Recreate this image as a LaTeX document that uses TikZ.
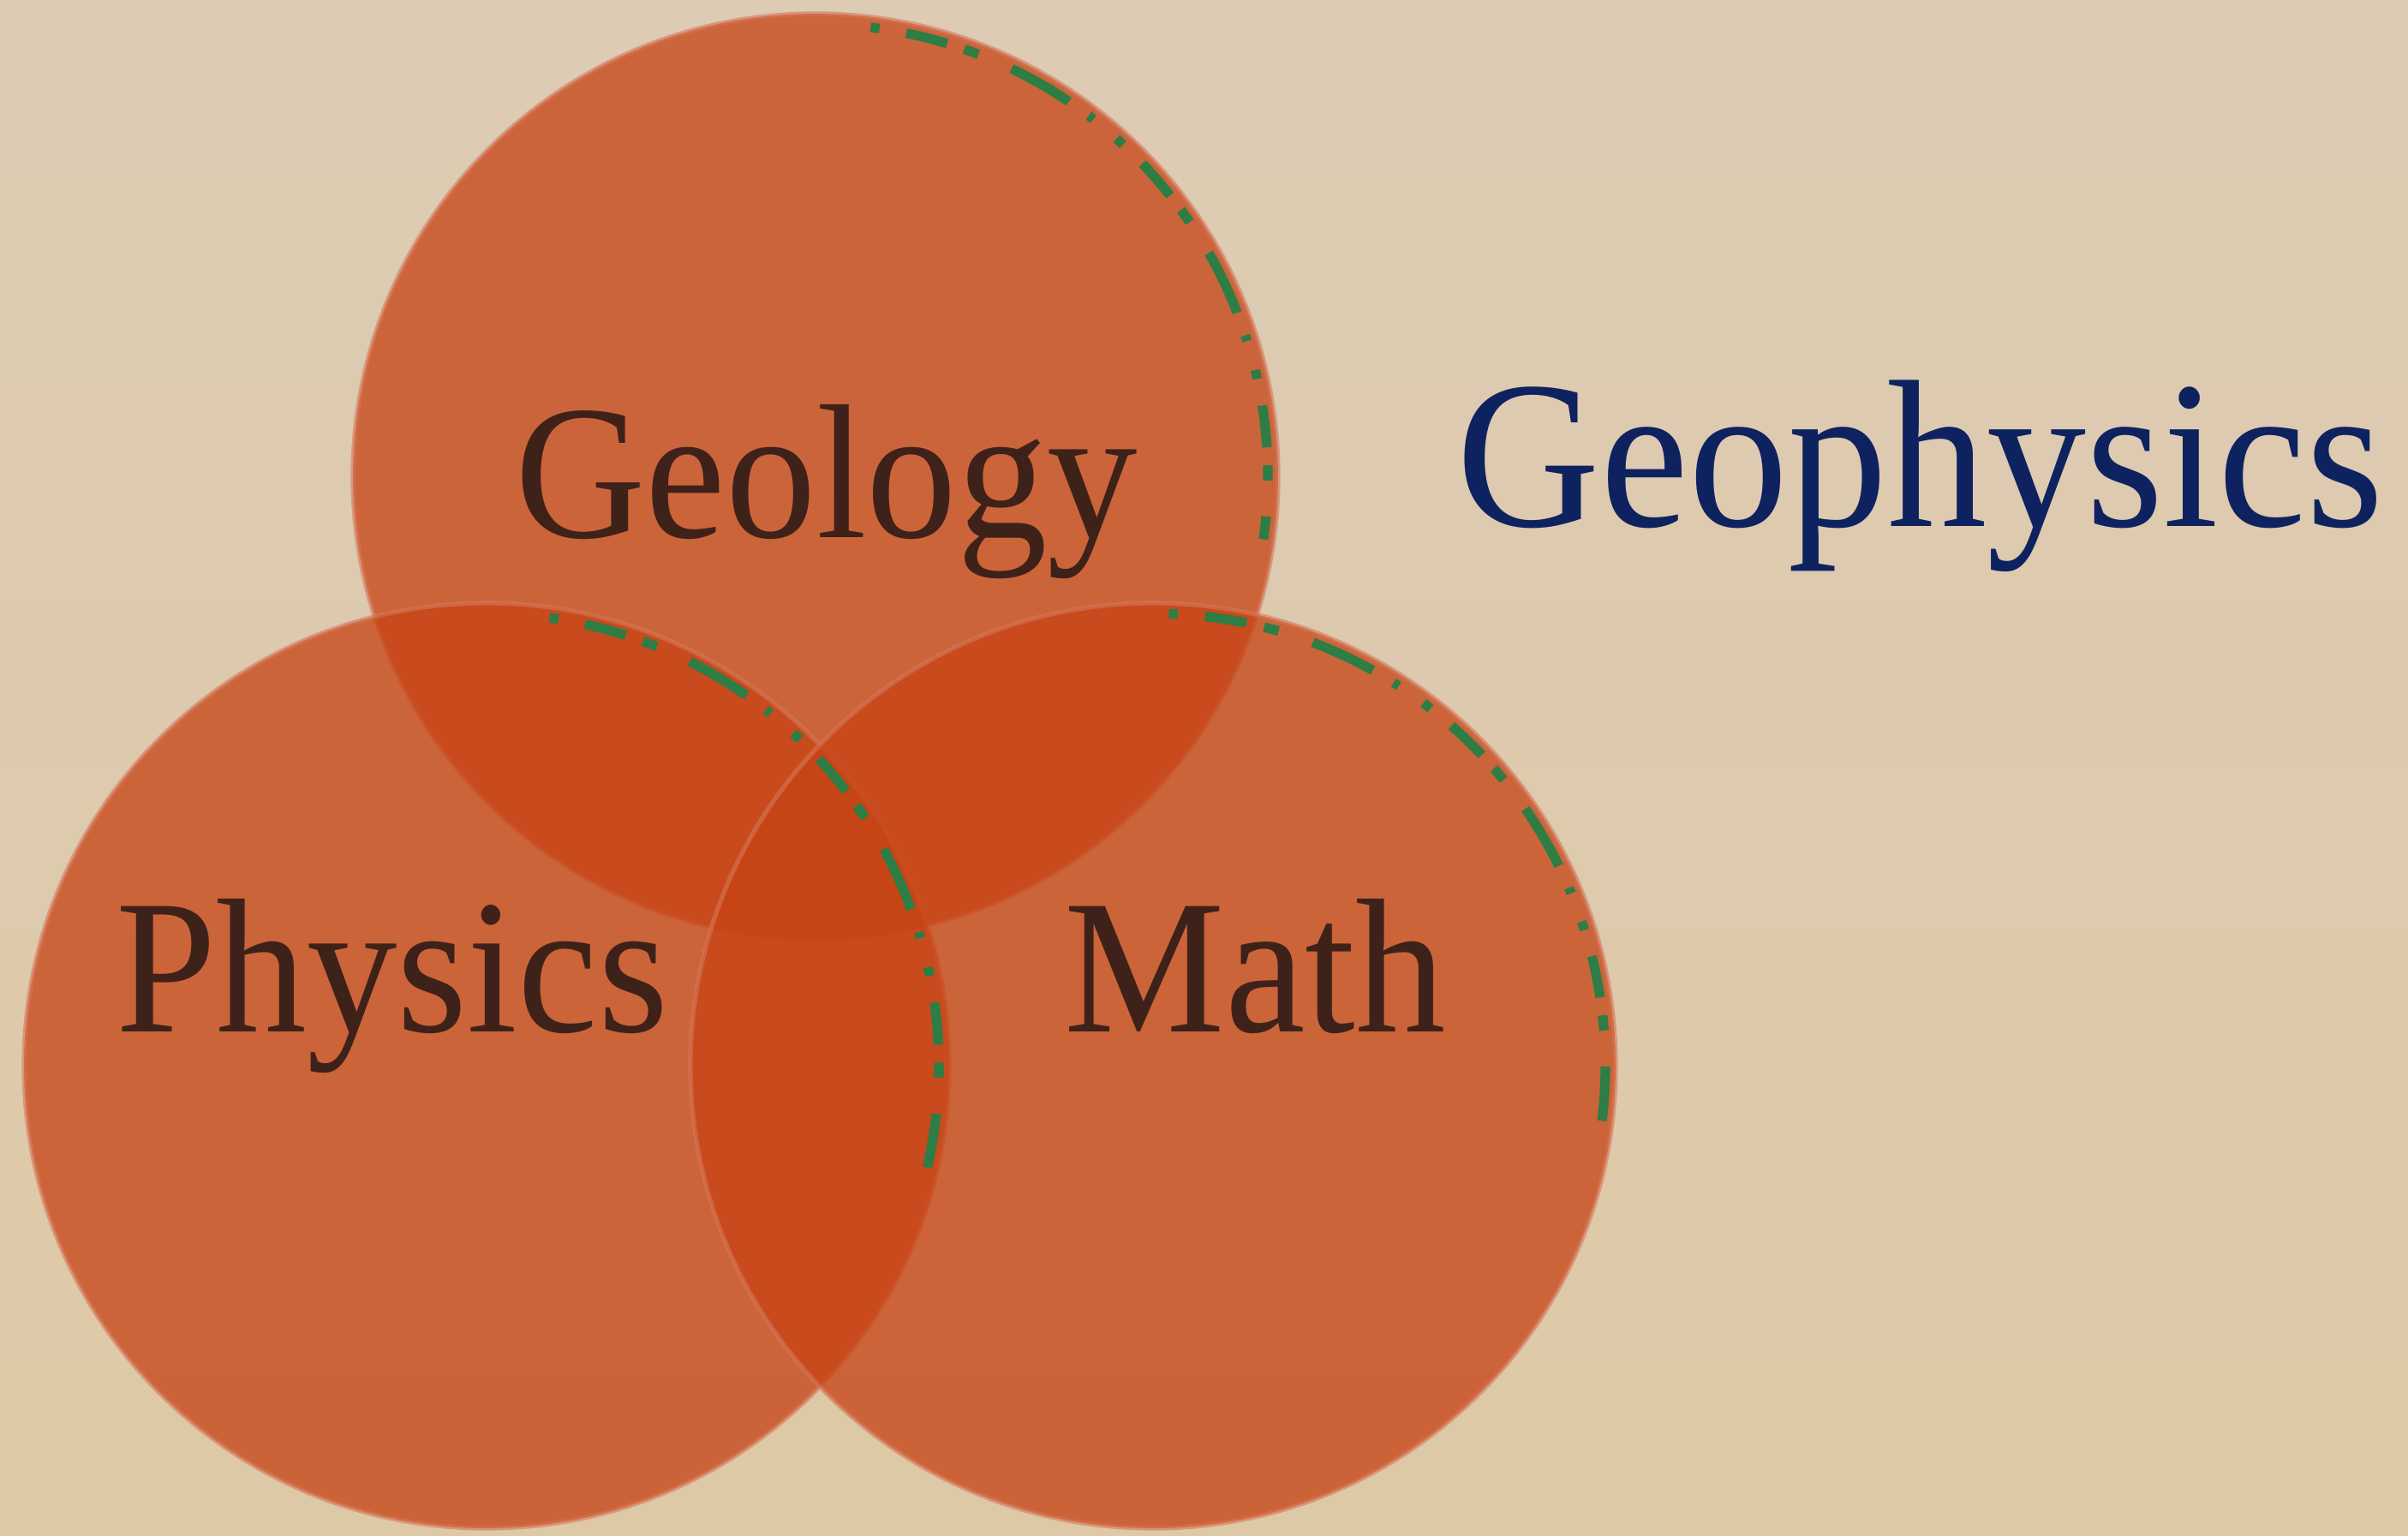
\documentclass[tikz,border=0pt]{standalone}
\usepackage{fontspec}
\setmainfont{Liberation Serif}
\definecolor{bgtop}{RGB}{221,203,180}
\definecolor{bgbot}{RGB}{222,201,166}
\definecolor{circfill}{RGB}{199,66,20}
\definecolor{circrim}{RGB}{214,118,88}
\definecolor{greenbit}{RGB}{46,125,69}
\definecolor{labelbrown}{RGB}{62,34,26}
\definecolor{titleblue}{RGB}{14,34,96}
\tikzset{
  venn/.style={circle, minimum size=10.8cm, inner sep=0pt, outer sep=0pt,
    fill=circfill, fill opacity=0.75, draw=circrim, draw opacity=0.6, line width=1.5pt},
  greenbits/.style={draw=greenbit, line width=3.2pt,
    dash pattern=on 3pt off 9pt on 14pt off 6pt on 5pt off 12pt on 22pt off 8pt on 2pt off 10pt},
  vennlabel/.style={anchor=base west, inner sep=0pt, yscale=1.06, text=labelbrown, font=\fontsize{60}{60}\selectfont},
  titlelabel/.style={anchor=base west, inner sep=0pt, yscale=1.06, text=titleblue, font=\fontsize{66}{66}\selectfont}
}
\begin{document}
\begin{tikzpicture}
\shade[top color=bgtop, bottom color=bgbot] (0,0) rectangle (28.11,17.92);
\useasboundingbox (0,0) rectangle (28.11,17.92);
% circles
\node[venn] (geo) at (9.52,12.36) {};
\node[venn] (phy) at (5.68,5.48) {};
\node[venn] (mat) at (13.46,5.48) {};
% green edge specks
\draw[greenbits] (geo.center) ++(83:5.28) arc[start angle=83, end angle=-8, radius=5.28];
\draw[greenbits] (phy.center) ++(82:5.28) arc[start angle=82, end angle=-13, radius=5.28];
\draw[greenbits] (mat.center) ++(88:5.28) arc[start angle=88, end angle=-7, radius=5.28];
% labels
\node[vennlabel] (tgeo) at (6.01,11.64) {Geology};
\node[vennlabel] (tphy) at (1.35,5.87) {Physics};
\node[vennlabel] (tmat) at (12.42,5.87) {Math};
\node[titlelabel] (tgp) at (17.0,11.77) {Geophysics};
\end{tikzpicture}
\end{document}
